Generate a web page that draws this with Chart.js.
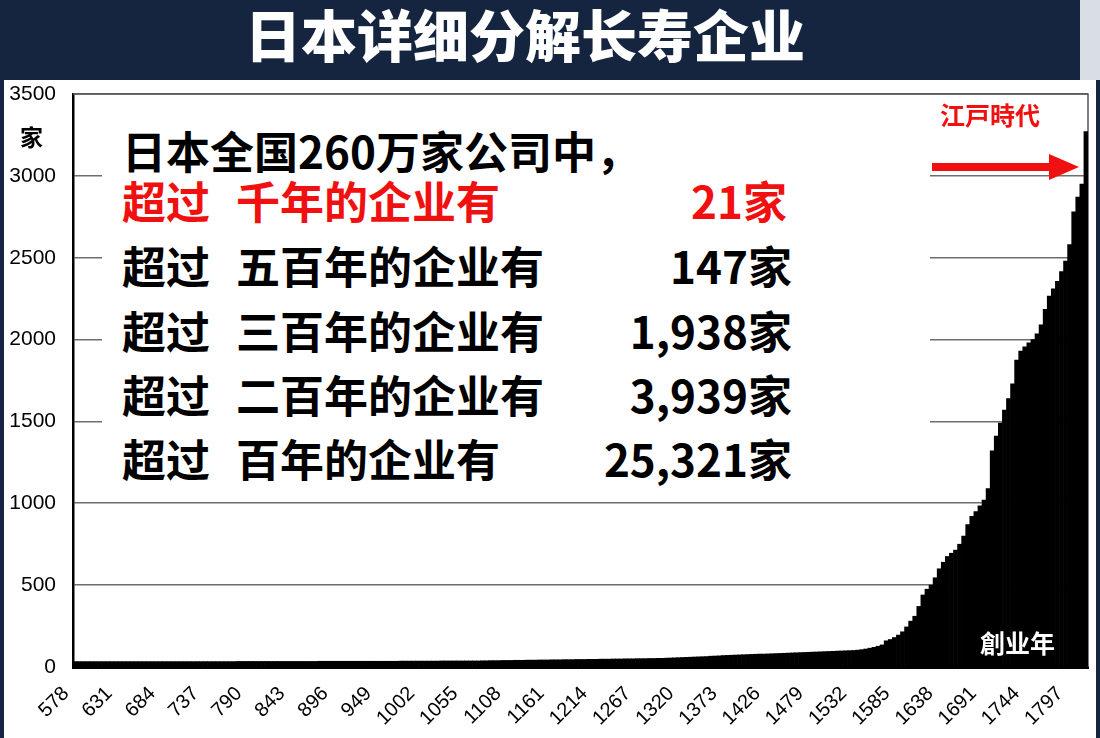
<!DOCTYPE html>
<html>
<head>
<meta charset="utf-8">
<script src="https://cdn.jsdelivr.net/npm/chart.js@4.4.1/dist/chart.umd.min.js"></script>
<style>
    html, body { margin: 0; padding: 0; }
    body {
        width: 1100px; height: 738px; position: relative; overflow: hidden;
        background: #15253f;
        font-family: "Noto Sans CJK SC", "Noto Sans", sans-serif;
    }
    #corner { position: absolute; left: 1080px; top: 0; width: 20px; height: 80px; background: #d9dde4; }
    #panel { position: absolute; left: 4px; top: 80px; width: 1092px; height: 658px; background: #fff; }
    #title {
        position: absolute; left: 0; top: -4px; width: 1050px; height: 74px; line-height: 74px;
        text-align: center; color: #fff; font-size: 56px; font-weight: 900; letter-spacing: 0;
    }
    #chartBox { position: absolute; left: 0; top: 0; width: 1100px; height: 738px; }
    #noteBox { position: absolute; left: 102px; top: 100px; width: 828px; height: 390px; background: #fff; }
    .line {
        position: absolute; left: 122px; font-size: 44px; font-weight: 700;
        line-height: 48px; white-space: pre; color: #000;
    }
    .line .gap { display: inline-block; width: 26px; }
    .num {
        position: absolute; right: 308px; font-size: 44px; font-weight: 700;
        line-height: 48px; text-align: right; color: #000;
    }
    .red { color: #f01010 !important; }
    .label { position: absolute; font-weight: 700; white-space: nowrap; }
</style>
</head>
<body>
<div id="corner"></div>
<div id="panel"></div>
<div id="title">日本详细分解长寿企业</div>

<div id="chartBox"><canvas id="yearChart" width="1100" height="738"></canvas></div>

<div id="noteBox"></div>
<div class="line" style="top:126px">日本全国260万家公司中，</div>
<div class="line red" style="top:176px">超过<span class="gap"></span>千年的企业有</div>
<div class="num red" style="top:176px; right:313px">21家</div>
<div class="line" style="top:241px">超过<span class="gap"></span>五百年的企业有</div>
<div class="num" style="top:241px">147家</div>
<div class="line" style="top:306px">超过<span class="gap"></span>三百年的企业有</div>
<div class="num" style="top:306px">1,938家</div>
<div class="line" style="top:370px">超过<span class="gap"></span>二百年的企业有</div>
<div class="num" style="top:370px">3,939家</div>
<div class="line" style="top:434px">超过<span class="gap"></span>百年的企业有</div>
<div class="num" style="top:434px">25,321家</div>

<div class="label" style="left:20px; top:121px; font-size:23px; line-height:30px; color:#000">家</div>
<div class="label" style="left:940px; top:99px; font-size:25px; line-height:30px; color:#f01010">江戸時代</div>
<div class="label" style="left:980px; top:627px; font-size:25px; line-height:30px; color:#fff">創业年</div>

<script>
// founding year of the first bar and years between bars
const startYear = 578;
const yearStep = 5;

// companies per bar (one row = 50 years)
const companyCounts = [
    33, 33, 33, 33, 33, 33, 33, 33, 33, 33,          // 578-623
    33, 33, 33, 33, 33, 33, 33, 33, 33, 33,          // 628-673
    33, 33, 33, 33, 33, 33, 33, 33, 33, 33,          // 678-723
    33, 33, 33, 33, 33, 33, 33, 33, 33, 33,          // 728-773
    34, 34, 34, 34, 34, 34, 34, 34, 34, 34,          // 778-823
    34, 34, 34, 34, 34, 34, 34, 34, 34, 34,          // 828-873
    35, 35, 35, 35, 35, 35, 35, 35, 35, 35,          // 878-923
    35, 35, 35, 35, 35, 35, 35, 35, 35, 35,          // 928-973
    36, 36, 36, 36, 36, 36, 36, 36, 36, 36,          // 978-1023
    37, 37, 37, 37, 37, 37, 37, 37, 37, 37,          // 1028-1073
    38, 38, 39, 39, 39, 40, 40, 40, 41, 41,          // 1078-1123
    41, 42, 42, 42, 43, 43, 43, 44, 44, 44,          // 1128-1173
    45, 45, 45, 46, 46, 46, 47, 47, 47, 48,          // 1178-1223
    48, 48, 49, 49, 49, 50, 50, 50, 51, 51,          // 1228-1273
    51, 52, 52, 53, 53, 54, 55, 56, 57, 58,          // 1278-1323
    59, 60, 61, 62, 63, 64, 66, 67, 68, 70,          // 1328-1373
    71, 72, 73, 74, 75, 76, 77, 78, 79, 79,          // 1378-1423
    80, 81, 82, 83, 84, 85, 86, 87, 88, 89,          // 1428-1473
    90, 91, 92, 93, 94, 95, 96, 97, 98, 99,          // 1478-1523
    100, 101, 103, 106, 110, 115, 120, 127, 135, 160,     // 1528-1573
    168, 180, 195, 215, 245, 280, 310, 370, 440, 475,     // 1578-1623
    500, 545, 600, 640, 675, 695, 714, 750, 800, 870,     // 1628-1673
    920, 950, 985, 1020, 1090, 1320, 1410, 1490, 1570, 1640,   // 1678-1723
    1730, 1875, 1930, 1955, 1980, 2000, 2035, 2090, 2185, 2265, // 1728-1773
    2310, 2355, 2415, 2480, 2580, 2780, 2870, 2950, 3270        // 1778-1818
];

const tickYears = [578, 631, 684, 737, 790, 843, 896, 949, 1002, 1055, 1108, 1161,
    1214, 1267, 1320, 1373, 1426, 1479, 1532, 1585, 1638, 1691, 1744, 1797];
const countTicks = [0, 500, 1000, 1500, 2000, 2500, 3000, 3500];

const barPoints = companyCounts.map((v, i) => ({ x: startYear + i * yearStep, y: v }));

// top and right edge of the plot box
const plotFrame = {
    id: "plotFrame",
    beforeDatasetsDraw(chart) {
        const { ctx, chartArea } = chart;
        ctx.save();
        ctx.strokeStyle = "#555";
        ctx.lineWidth = 1.5;
        ctx.beginPath();
        ctx.moveTo(chartArea.left, chartArea.top);
        ctx.lineTo(chartArea.right, chartArea.top);
        ctx.lineTo(chartArea.right, chartArea.bottom);
        ctx.stroke();
        ctx.restore();
    }
};

// red arrow pointing at the Edo period
const edoArrow = {
    id: "edoArrow",
    afterDraw(chart) {
        const { ctx } = chart;
        ctx.save();
        ctx.fillStyle = "#f01010";
        ctx.fillRect(932, 163, 120, 8);
        ctx.beginPath();
        ctx.moveTo(1049, 154);
        ctx.lineTo(1079, 167);
        ctx.lineTo(1049, 180);
        ctx.closePath();
        ctx.fill();
        ctx.restore();
    }
};

const yearChart = new Chart(document.getElementById("yearChart").getContext("2d"), {
    type: "bar",
    data: {
        datasets: [{
            data: barPoints,
            backgroundColor: "#000",
            borderWidth: 0,
            barPercentage: 1,
            categoryPercentage: 1
        }]
    },
    options: {
        responsive: false,
        animation: false,
        layout: { padding: { top: 94, right: 12, left: 0, bottom: 0 } },
        plugins: { legend: { display: false }, tooltip: { enabled: false } },
        scales: {
            x: {
                type: "linear",
                min: 575.5,
                max: 1820.5,
                offset: false,
                afterFit: (scale) => { scale.height = 71; },
                afterBuildTicks: (scale) => { scale.ticks = tickYears.map(v => ({ value: v })); },
                grid: { display: false, offset: false },
                border: { display: true, color: "#000", width: 3 },
                ticks: {
                    autoSkip: false,
                    minRotation: 45,
                    maxRotation: 45,
                    padding: 7,
                    labelOffset: -9,
                    color: "#000",
                    font: { family: "Liberation Sans", size: 20 },
                    callback: (v) => String(v)
                }
            },
            y: {
                min: 0,
                max: 3500,
                afterFit: (scale) => { scale.width = 73; },
                afterBuildTicks: (scale) => { scale.ticks = countTicks.map(v => ({ value: v })); },
                grid: { color: "#6e6e6e", lineWidth: 1.6, drawTicks: false },
                border: { display: true, color: "#000", width: 2.5 },
                ticks: {
                    padding: 17,
                    color: "#000",
                    font: { family: "Liberation Sans", size: 21 },
                    callback: (v) => String(v)
                }
            }
        }
    },
    plugins: [plotFrame, edoArrow]
});
</script>
</body>
</html>
